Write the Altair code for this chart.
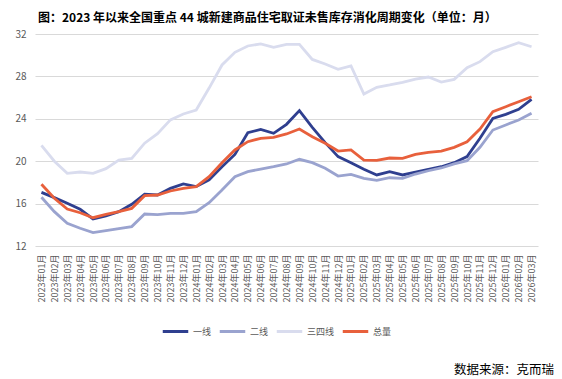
import altair as alt
import pandas as pd

months = [f"{y}年{m:02d}月" for y in (2023, 2024, 2025) for m in range(1, 13)] + [f"2026年{m:02d}月" for m in (1, 2, 3)]

yixian = [17.06, 16.56, 16.03, 15.46, 14.55, 14.83, 15.24, 15.93, 16.88, 16.81, 17.44, 17.85, 17.6,
          18.23, 19.48, 20.64, 22.69, 23.0, 22.63, 23.48, 24.77, 23.2, 21.75, 20.43, 19.86, 19.24, 18.7,
          19.01, 18.7, 18.98, 19.24, 19.48, 19.86, 20.43, 22.16, 24.04, 24.42, 24.89, 25.83]
erxian = [16.6, 15.24, 14.14, 13.67, 13.26, 13.45, 13.64, 13.83, 15.02, 14.96, 15.08, 15.08, 15.24,
          16.09, 17.28, 18.54, 19.01, 19.26, 19.48, 19.74, 20.18, 19.86, 19.33, 18.6, 18.76, 18.38, 18.2,
          18.44, 18.38, 18.79, 19.1, 19.36, 19.74, 20.05, 21.31, 22.94, 23.42, 23.89, 24.52]
sansi = [21.5, 20.0, 18.86, 18.98, 18.86, 19.3, 20.1, 20.27, 21.7, 22.6, 23.9, 24.45, 24.83,
         26.9, 29.08, 30.27, 30.87, 31.06, 30.74, 31.03, 31.03, 29.6, 29.17, 28.67, 29.0, 26.34, 26.97,
         27.19, 27.44, 27.75, 27.94, 27.47, 27.72, 28.82, 29.39, 30.33, 30.74, 31.18, 30.8]
zongliang = [17.82, 16.5, 15.49, 15.14, 14.67, 14.99, 15.24, 15.55, 16.75, 16.81, 17.19, 17.44, 17.6,
             18.54, 19.86, 21.06, 21.84, 22.16, 22.25, 22.57, 23.04, 22.31, 21.69, 20.96, 21.06, 20.11, 20.08,
             20.3, 20.27, 20.64, 20.84, 20.96, 21.31, 21.84, 23.04, 24.67, 25.14, 25.61, 26.08]

series_names = ["一线", "二线", "三四线", "总量"]
series_colors = ["#2f3f8f", "#9aa3cf", "#d9dcee", "#e8603c"]
title_text = "图：2023 年以来全国重点 44 城新建商品住宅取证未售库存消化周期变化（单位：月）"
source_text = "数据来源：克而瑞"

rows = []
for name, vals in zip(series_names, [yixian, erxian, sansi, zongliang]):
    for i, (m, v) in enumerate(zip(months, vals)):
        rows.append({"月份": m, "值": v, "系列": name, "序": series_names.index(name)})
df = pd.DataFrame(rows)

FONT = "Noto Sans CJK SC"

lines = alt.Chart(df).mark_line(strokeWidth=2.8).encode(
    x=alt.X("月份:O", sort=months, title=None,
            scale=alt.Scale(type="point", padding=0.5),
            axis=alt.Axis(labelAngle=270, labelFontSize=9, labelColor="#595959",
                          labelFont=FONT, ticks=False, domain=False, grid=False,
                          labelPadding=8, labelOverlap=False)),
    y=alt.Y("值:Q", title=None,
            scale=alt.Scale(domain=[12, 32], nice=False, zero=False),
            axis=alt.Axis(values=[12, 16, 20, 24, 28, 32], labelFontSize=10,
                          labelColor="#595959", labelFont=FONT, ticks=False,
                          domain=False, gridColor="#d9d9d9", labelPadding=9)),
    color=alt.Color("系列:N", sort=series_names,
                    scale=alt.Scale(domain=series_names, range=series_colors),
                    legend=alt.Legend(title=None, orient="none", direction="horizontal",
                                      legendX=126, legendY=283, symbolType="stroke",
                                      symbolSize=650, symbolStrokeWidth=3, gridAlign="none",
                                      labelFontSize=9, labelColor="#595959", labelFont=FONT,
                                      labelOffset=3, columnPadding=1)),
    order=alt.Order("序:Q"),
)

source = alt.Chart(pd.DataFrame({"t": [source_text]})).mark_text(
    align="right", baseline="middle", fontSize=12.5, font=FONT, color="#000000"
).encode(x=alt.value(519), y=alt.value(336), text="t:N")

chart = alt.layer(lines, source).properties(
    width=503, height=212,
    title=alt.TitleParams(title_text, anchor="start", frame="group", dx=3, fontSize=12,
                          font=FONT, fontWeight="bold", color="#000000", offset=4),
    autosize=alt.AutoSizeParams(type="none"),
    padding={"left": 27, "top": 26, "right": 16, "bottom": 133},
).configure_view(stroke=None)

chart.save("out.html", embed_options={"renderer": "svg", "actions": False})
